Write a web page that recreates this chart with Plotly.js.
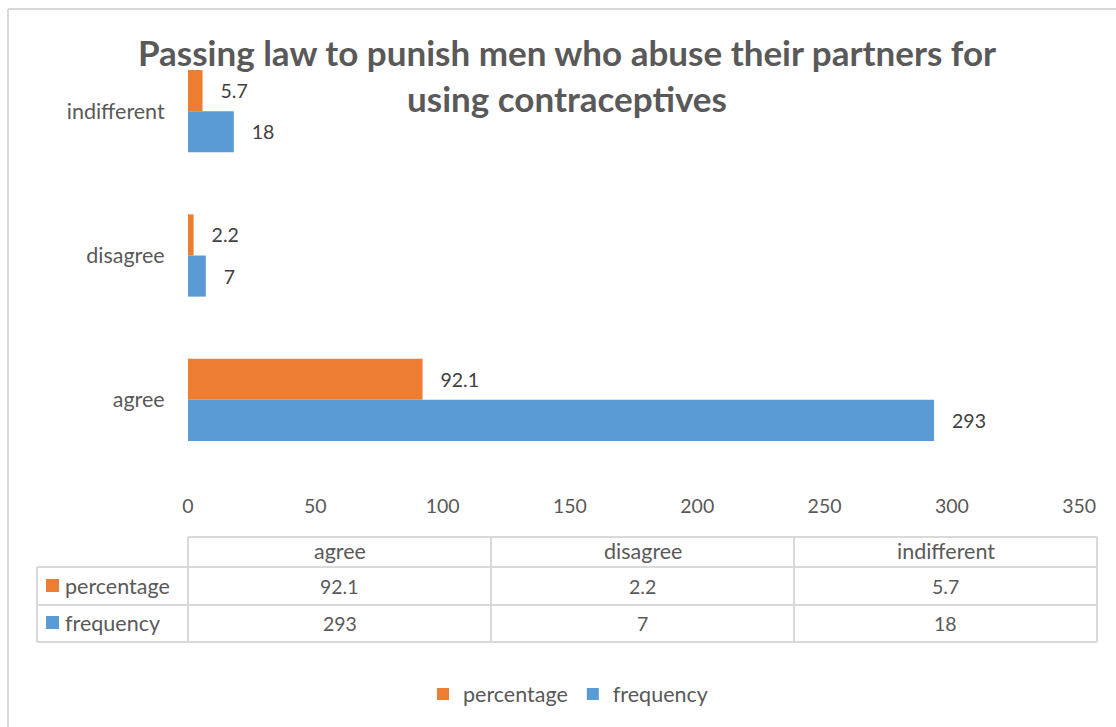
<!DOCTYPE html>
<html>
<head>
<meta charset="utf-8">
<script src="https://cdn.plot.ly/plotly-3.0.1.min.js"></script>
<style>
  html, body { margin: 0; padding: 0; background: #ffffff; }
  #chart { width: 1116px; height: 727px; }
</style>
</head>
<body>
<div id="chart"></div>
<script>
// ---- data ----
const categories = ["agree", "disagree", "indifferent"];
const percentage = [92.1, 2.2, 5.7];
const frequency = [293, 7, 18];
const seriesNames = ["percentage", "frequency"];
const xTicks = [0, 50, 100, 150, 200, 250, 300, 350];
const titleText = "Passing law to punish men who abuse their partners for<br>using contraceptives";

// ---- styling ----
const ORANGE = "#ED7D31";
const BLUE = "#5B9BD5";
const TEXT = "#595959";
const LABEL = "#404040";
const GRID = "#D9D9D9";
const FONT = "Lato, 'Open Sans', sans-serif";
const WORD = 21.5;   // size for words
const NUM = 19.5;    // size for numbers

// plot area in pixels
const W = 1116, H = 727;
const PL = 188, PR = 1097, PT = 39, PB = 472;
const px = x => (x - PL) / (PR - PL);
const py = y => (PB - y) / (PB - PT);

const pad = "\u00a0\u00a0\u00a0";

const traces = [
  {
    type: "bar", orientation: "h", name: seriesNames[1],
    y: categories, x: frequency,
    marker: { color: BLUE },
    text: frequency.map(String),
    texttemplate: pad + "%{text}",
    textposition: "outside", cliponaxis: false, constraintext: "none",
    textfont: { family: FONT, size: NUM, color: LABEL },
    hoverinfo: "x+y+name"
  },
  {
    type: "bar", orientation: "h", name: seriesNames[0],
    y: categories, x: percentage,
    marker: { color: ORANGE },
    text: percentage.map(String),
    texttemplate: pad + "%{text}",
    textposition: "outside", cliponaxis: false, constraintext: "none",
    textfont: { family: FONT, size: NUM, color: LABEL },
    hoverinfo: "x+y+name"
  }
];

// ---- data table below the chart ----
const colEdges = [188, 491, 794, 1097];
const rowEdges = [537, 567, 605, 642];
const labelLeft = 37;
const shapes = [];
const line = (x0, y0, x1, y1) => shapes.push({
  type: "line", xref: "paper", yref: "paper",
  x0: px(x0), y0: py(y0), x1: px(x1), y1: py(y1),
  line: { color: GRID, width: 2 }
});
// horizontals
line(colEdges[0], rowEdges[0], colEdges[3], rowEdges[0]);
for (let i = 1; i < rowEdges.length; i++) line(labelLeft, rowEdges[i], colEdges[3], rowEdges[i]);
// verticals
line(labelLeft, rowEdges[1], labelLeft, rowEdges[3]);
colEdges.forEach(cx => line(cx, rowEdges[0], cx, rowEdges[3]));
// outer chart border (left and top edges visible)
line(8, 9, 1130, 9);
line(8, 9, 8, 740);

const annotations = [];
const cellText = (cx, cy, t, size) => annotations.push({
  xref: "paper", yref: "paper", x: px(cx), y: py(cy),
  xanchor: "center", yanchor: "middle", showarrow: false, text: t,
  font: { family: FONT, size: size, color: TEXT }
});
const rowCenters = [551, 586, 623];
categories.forEach((c, i) => {
  const cx = (colEdges[i] + colEdges[i + 1]) / 2;
  cellText(cx, rowCenters[0], c, WORD);
  cellText(cx, rowCenters[1], String(percentage[i]), NUM);
  cellText(cx, rowCenters[2], String(frequency[i]), NUM);
});
// row labels with color keys
[[seriesNames[0], ORANGE, rowCenters[1]], [seriesNames[1], BLUE, rowCenters[2]]].forEach(([nm, col, cy]) => {
  shapes.push({
    type: "rect", xref: "paper", yref: "paper",
    x0: px(46), x1: px(59), y0: py(cy - 7), y1: py(cy + 6),
    line: { width: 0 }, fillcolor: col
  });
  annotations.push({
    xref: "paper", yref: "paper", x: px(63), y: py(cy),
    xanchor: "left", yanchor: "middle", showarrow: false, text: nm,
    font: { family: FONT, size: WORD, color: TEXT }
  });
});

const layout = {
  width: W, height: H,
  margin: { l: PL, r: W - PR, t: PT, b: H - PB, pad: 0 },
  paper_bgcolor: "#ffffff", plot_bgcolor: "#ffffff",
  font: { family: FONT, size: WORD, color: TEXT },
  title: {
    text: titleText,
    font: { family: FONT, size: 35, color: TEXT, weight: "bold" },
    x: px(567), xref: "paper", xanchor: "center",
    y: 1 - 66 / H, yref: "container", yanchor: "middle"
  },
  barmode: "group", bargap: 0.43, bargroupgap: 0,
  xaxis: {
    range: [0, 357], tickvals: xTicks, ticktext: xTicks.map(String),
    showgrid: false, zeroline: false, showline: false,
    ticks: "outside", ticklen: 17, tickcolor: "rgba(0,0,0,0)",
    tickfont: { family: FONT, size: NUM, color: TEXT },
    fixedrange: true
  },
  yaxis: {
    type: "category", categoryorder: "array", categoryarray: categories,
    range: [-0.5, 2.5],
    showgrid: false, zeroline: false, showline: false,
    ticks: "outside", ticklen: 18, tickcolor: "rgba(0,0,0,0)",
    tickfont: { family: FONT, size: WORD, color: TEXT },
    fixedrange: true
  },
  showlegend: true,
  legend: {
    orientation: "h", traceorder: "reversed",
    x: px(568), xanchor: "center", y: py(694), yanchor: "middle",
    font: { family: FONT, size: WORD, color: TEXT },
    bgcolor: "rgba(0,0,0,0)"
  },
  shapes: shapes,
  annotations: annotations
};

Plotly.newPlot("chart", traces, layout, { displayModeBar: false, staticPlot: true });
</script>
</body>
</html>
